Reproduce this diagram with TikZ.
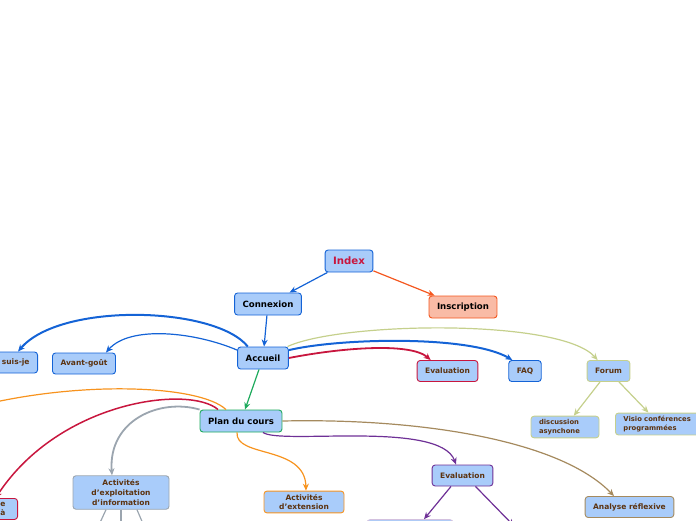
\documentclass[tikz,border=0pt]{standalone}
\usepackage{fontspec}
\setmainfont{DejaVu Sans}
\usepackage{xcolor}
\definecolor{Sky}{HTML}{A9CCFA}
\definecolor{Blue}{HTML}{1463D6}
\definecolor{Crimson}{HTML}{C8163E}
\definecolor{Salmon}{HTML}{F9BBA6}
\definecolor{OrangeRed}{HTML}{F4571F}
\definecolor{Khaki}{HTML}{C5D08C}
\definecolor{Green}{HTML}{1DAA5C}
\definecolor{Gray}{HTML}{9BA5AF}
\definecolor{Orange}{HTML}{F7931E}
\definecolor{Purple}{HTML}{6E3096}
\definecolor{Tan}{HTML}{A58A5E}
\definecolor{Brown}{HTML}{5C3310}
\colorlet{sky}{Sky}
\colorlet{bluex}{Blue}
\colorlet{crimson}{Crimson}
\colorlet{salmon}{Salmon}
\colorlet{orangered}{OrangeRed}
\colorlet{khaki}{Khaki}
\colorlet{greenx}{Green}
\colorlet{grayx}{Gray}
\colorlet{orangex}{Orange}
\colorlet{purplex}{Purple}
\colorlet{tanx}{Tan}
\colorlet{brownx}{Brown}
\usepackage{tikz}
\usetikzlibrary{arrows.meta}

\begin{document}
\begin{tikzpicture}[x=1pt,y=1pt,every node/.style={font=\bfseries\fontsize{7.5}{9.7}\selectfont,align=center,text=brownx},
box/.style={draw,fill=sky,rounded corners=3pt,inner xsep=8pt,inner ysep=3pt,minimum height=21pt,line width=0.9pt},
big/.style={font=\bfseries\fontsize{8.6}{10}\selectfont,text=black,minimum height=22pt},
tiny/.style={font=\bfseries\fontsize{6.8}{9}\selectfont,align=left},
arr/.style={-{Stealth[length=7pt,width=6pt]},line width=1.2pt}]
\useasboundingbox (0,-520) rectangle (696,0);
\clip (0,-520) rectangle (696,0);
\node[box,big,draw=bluex,font=\bfseries\fontsize{10.2}{12}\selectfont,text=crimson] (idx) at (349,-261) {Index};
\node[box,big,draw=bluex] (cnx) at (268,-304) {Connexion};
\node[box,big,draw=orangered,fill=salmon] (ins) at (463,-307) {Inscription};
\node[box,big,draw=bluex] (acc) at (263,-358) {Accueil};
\node[box,draw=bluex,anchor=east] (qui) at (38,-362.5) {Qui suis-je};
\node[box,draw=bluex] (avg) at (84,-363.5) {Avant-goût};
\node[box,draw=crimson] (evr) at (447.5,-371) {Evaluation};
\node[box,draw=bluex] (faq) at (525,-371) {FAQ};
\node[box,draw=khaki] (frm) at (608.5,-371) {Forum};
\node[box,tiny,draw=khaki,text width=52pt] (dsc) at (565,-427) {discussion\\asynchone};
\node[box,tiny,draw=khaki,text width=72pt,anchor=west] (vis) at (615,-424) {Visio conférences\\programmées};
\node[box,big,draw=greenx] (pln) at (241,-421) {Plan du cours};
\node[box,draw=grayx,minimum width=96pt,inner ysep=4pt] (exp) at (121,-492.5) {Activités\\d'exploitation\\d'information};
\node[box,draw=orangex,minimum width=80pt] (ext) at (304,-502) {Activités\\d'extension};
\node[box,draw=purplex] (evp) at (462.5,-475.5) {Evaluation};
\node[box,draw=tanx] (ana) at (629.5,-507) {Analyse réflexive};
\node[box,draw=crimson,anchor=north east,text width=20pt,align=right,inner xsep=12pt] (rea) at (18,-498) {e\\à};
\node[box,draw=purplex!30,minimum width=86pt,anchor=north] (evl) at (410,-519.2) {};
\coordinate (evq) at (514,-526);
\coordinate (ofl) at (-30,-408);
\coordinate (g1) at (92,-540);\coordinate (g2) at (121,-540);\coordinate (g3) at (150,-540);
\draw[arr,bluex] (idx)--(cnx);\draw[arr,orangered] (idx)--(ins);\draw[arr,bluex] (cnx)--(acc);\draw[arr,greenx] (acc)--(pln);
\draw[arr,khaki] (frm)--(dsc);\draw[arr,khaki] (frm)--(vis);
\draw[arr,bluex,line width=2pt] (acc.143) .. controls (215,-306) and (60,-302) .. ([xshift=-20pt]qui.north east);
\draw[arr,bluex] (acc.163) .. controls (195,-332) and (130,-325) .. ([xshift=-10pt]avg.north east);
\draw[arr,crimson,line width=1.8pt] (acc.east) .. controls (340,-348) and (410,-342) .. ([xshift=14pt]evr.north west);
\draw[arr,bluex,line width=2pt] (acc.17) .. controls (340,-338) and (470,-335) .. ([xshift=4pt]faq.north west);
\draw[arr,khaki] (acc.25) .. controls (340,-322) and (560,-318) .. ([xshift=11pt]frm.north west);
\draw[arr,grayx,line width=1.8pt] (pln.north west) .. controls (160,-398) and (108,-420) .. ([xshift=-9pt]exp.north);
\draw[arr,orangex] ([xshift=-4pt]pln.south) .. controls (235,-458) and (305,-445) .. ([xshift=2pt]ext.north);
\draw[arr,purplex] ([xshift=22pt]pln.south) .. controls (280,-445) and (440,-420) .. ([xshift=-6.5pt]evp.north);
\draw[arr,tanx] (pln.east) .. controls (420,-418) and (560,-440) .. ([xshift=-15.5pt]ana.north);
\draw[arr,orangex] ([xshift=-15pt]pln.north) .. controls (200,-385) and (80,-380) .. (ofl);
\draw[arr,crimson,line width=1.5pt] ([xshift=-23pt]pln.north) .. controls (190,-385) and (60,-400) .. (rea.north);
\draw[arr,purplex] ([xshift=-11.5pt]evp.south)--([xshift=14pt]evl.north);\draw[arr,purplex] ([xshift=13pt]evp.south)--(evq);
\draw[arr,grayx] ([xshift=-15pt]exp.south)--(g1);\draw[arr,grayx] (exp.south)--(g2);\draw[arr,grayx] ([xshift=16pt]exp.south)--(g3);
\end{tikzpicture}
\end{document}
